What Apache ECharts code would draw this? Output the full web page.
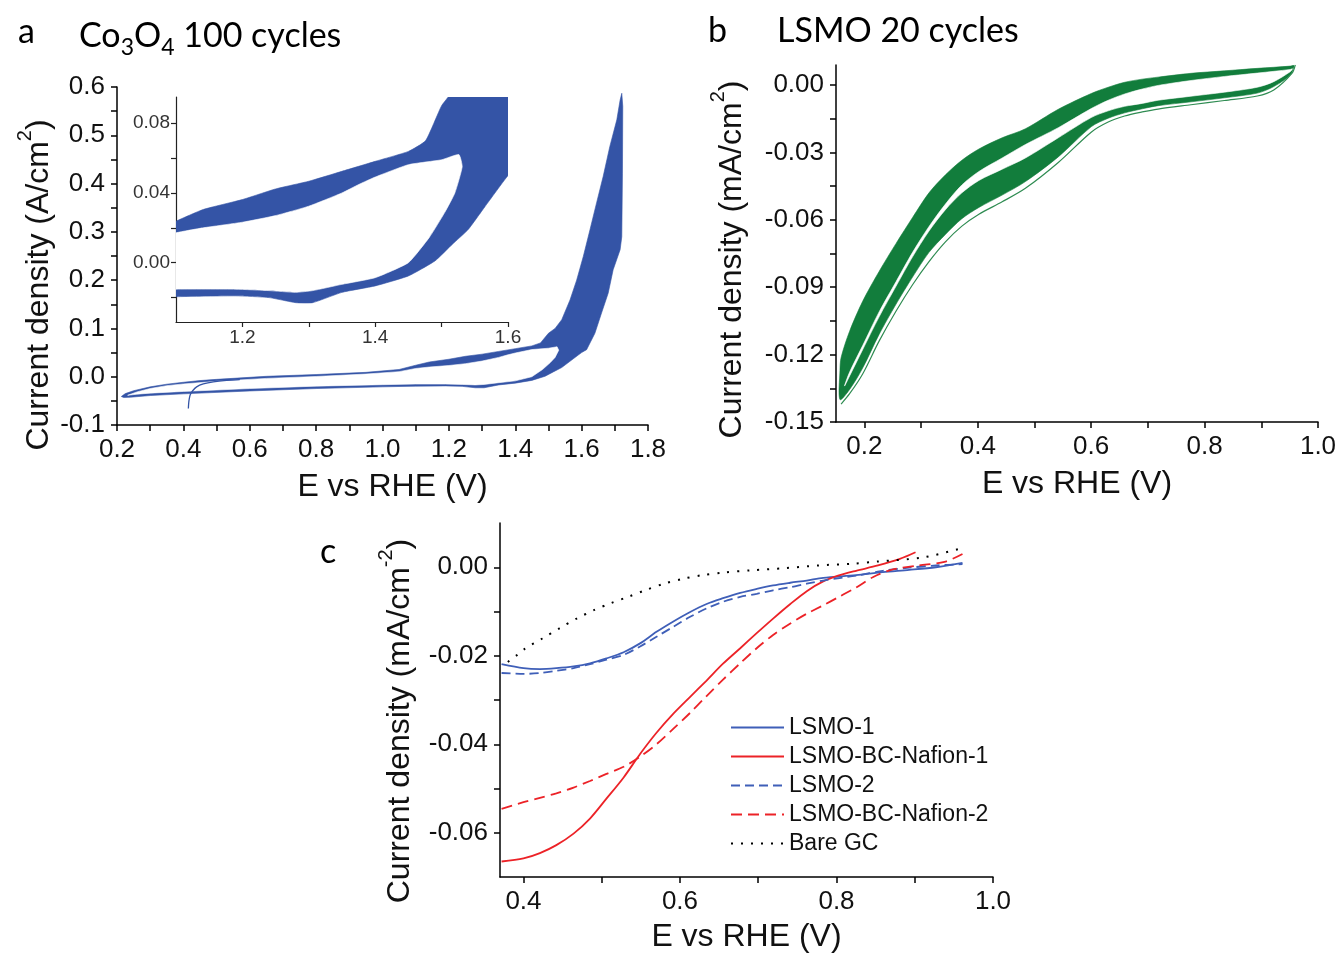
<!DOCTYPE html>
<html><head><meta charset="utf-8">
<script src="https://cdn.jsdelivr.net/npm/echarts@6/dist/echarts.min.js"></script>
<style>html,body{margin:0;padding:0;background:#fff}#c{width:1342px;height:954px}</style>
</head><body><div id="c"></div>
<script>
// ---------- Panel a : Co3O4, 100 cycles (band outline) ----------
const aOuter = [
[0.213,-0.041],[0.225,-0.035],[0.25,-0.029],[0.3,-0.021],[0.35,-0.0155],[0.4,-0.0115],[0.45,-0.008],[0.5,-0.0055],[0.65,0.0008],[0.8,0.0045],[0.95,0.009],[1.05,0.015],[1.1,0.0238],[1.141,0.0305],[1.2,0.0362],[1.25,0.0423],[1.3,0.0467],[1.35,0.0524],[1.4,0.0581],[1.45,0.0638],[1.476,0.07],[1.5,0.09],[1.52,0.10],[1.54,0.118],[1.565,0.159],[1.585,0.20],[1.605,0.249],[1.625,0.304],[1.645,0.36],[1.665,0.415],[1.685,0.477],[1.706,0.532],[1.716,0.573],[1.721,0.587],
[1.724,0.56],[1.723,0.42],[1.721,0.29],[1.716,0.263],[1.695,0.2215],[1.68,0.173],[1.66,0.132],[1.64,0.090],[1.615,0.056],[1.6,0.05],[1.59,0.045],[1.565,0.032],[1.54,0.019],[1.516,0.0105],[1.49,0.001],[1.45,-0.0076],[1.4,-0.0133],[1.35,-0.017],[1.306,-0.0229],[1.28,-0.0229],[1.24,-0.020],[1.19,-0.019],[1.1,-0.0195],[1.0,-0.021],[0.8,-0.0245],[0.6,-0.0295],[0.4,-0.0355],[0.3,-0.039],[0.24,-0.0425],[0.22,-0.043]
];
const aInner = [
[0.232,-0.0385],[0.26,-0.0315],[0.3,-0.0245],[0.35,-0.0185],[0.4,-0.015],[0.5,-0.0095],[0.65,-0.0035],[0.8,0.0005],[0.95,0.0055],[1.05,0.0105],[1.1,0.0171],[1.141,0.020],[1.2,0.0232],[1.25,0.027],[1.3,0.0324],[1.35,0.040],[1.375,0.0448],[1.4,0.0491],[1.45,0.0562],[1.5,0.059],[1.526,0.062],[1.531,0.055],[1.52,0.040],[1.505,0.029],[1.482,0.0148],[1.45,0.0],[1.4,-0.0086],[1.35,-0.0124],[1.306,-0.016],[1.28,-0.017],[1.24,-0.016],[1.19,-0.0152],[1.1,-0.0152],[1.0,-0.0165],[0.8,-0.0195],[0.6,-0.0245],[0.4,-0.0305],[0.3,-0.034],[0.26,-0.0362]
];
const aTail = [[0.415,-0.066],[0.416,-0.055],[0.418,-0.045],[0.421,-0.037],[0.428,-0.029],[0.44,-0.021],[0.46,-0.015],[0.49,-0.0105],[0.53,-0.0075],[0.57,-0.006]];

const aXTicks = [0.2,0.3,0.4,0.5,0.6,0.7,0.8,0.9,1.0,1.1,1.2,1.3,1.4,1.5,1.6,1.7,1.8];
const aXLabels = [0.2,0.4,0.6,0.8,1.0,1.2,1.4,1.6,1.8];
const aYTicks = [-0.1,-0.05,0,0.05,0.1,0.15,0.2,0.25,0.3,0.35,0.4,0.45,0.5,0.55,0.6];
const aYLabels = [-0.1,0,0.1,0.2,0.3,0.4,0.5,0.6];
const iXTicks = [1.2,1.3,1.4,1.5,1.6];
const iXLabels = [1.2,1.4,1.6];
const iYTicks = [-0.02,0,0.02,0.04,0.06,0.08];
const iYLabels = [0,0.04,0.08];

// ---------- Panel b : LSMO, 20 cycles ----------
const bUpperTop = [[0.157,-0.127],[0.159,-0.1213],[0.174,-0.1096],[0.197,-0.0963],[0.226,-0.083],[0.256,-0.0705],[0.285,-0.059],[0.314,-0.048],[0.343,-0.040],[0.372,-0.0335],[0.402,-0.0285],[0.443,-0.0235],[0.484,-0.0195],[0.542,-0.0108],[0.6,-0.0038],[0.63,-0.001],[0.659,0.0012],[0.69,0.0026],[0.718,0.0035],[0.776,0.0052],[0.835,0.0063],[0.893,0.0074],[0.951,0.0084],[0.957,0.0088]];
const bUpperBottom = [[0.165,-0.134],[0.174,-0.1278],[0.197,-0.116],[0.226,-0.101],[0.256,-0.0875],[0.285,-0.0745],[0.314,-0.063],[0.343,-0.053],[0.372,-0.0445],[0.402,-0.0385],[0.443,-0.0325],[0.484,-0.0265],[0.542,-0.019],[0.6,-0.0105],[0.63,-0.0068],[0.659,-0.004],[0.69,-0.0018],[0.718,-0.0002],[0.776,0.002],[0.835,0.0038],[0.893,0.0053],[0.951,0.0069],[0.955,0.0072]];
const bLowerTop = [[0.174,-0.1295],[0.197,-0.1178],[0.226,-0.1032],[0.256,-0.0895],[0.285,-0.0765],[0.314,-0.065],[0.343,-0.0555],[0.372,-0.048],[0.402,-0.0425],[0.443,-0.0375],[0.484,-0.0325],[0.542,-0.0235],[0.6,-0.0145],[0.63,-0.0115],[0.659,-0.0095],[0.69,-0.0082],[0.718,-0.0068],[0.776,-0.005],[0.835,-0.0032],[0.893,-0.001],[0.922,0.0015],[0.951,0.0059]];
const bLowerBottom = [[0.157,-0.14],[0.174,-0.1355],[0.197,-0.126],[0.226,-0.111],[0.256,-0.0975],[0.285,-0.0855],[0.314,-0.0745],[0.343,-0.0665],[0.372,-0.0595],[0.402,-0.0545],[0.443,-0.049],[0.484,-0.043],[0.542,-0.032],[0.6,-0.0186],[0.63,-0.0148],[0.659,-0.0124],[0.69,-0.0106],[0.718,-0.0092],[0.776,-0.0075],[0.835,-0.0057],[0.893,-0.0036],[0.922,-0.0007],[0.951,0.0044],[0.958,0.0085]];
const bOuterCycle = [[0.159,-0.142],[0.174,-0.1374],[0.197,-0.1286],[0.226,-0.114],[0.256,-0.1006],[0.285,-0.0889],[0.314,-0.0786],[0.343,-0.0698],[0.372,-0.0628],[0.402,-0.0575],[0.443,-0.052],[0.484,-0.046],[0.542,-0.0345],[0.6,-0.021],[0.63,-0.0165],[0.659,-0.0138],[0.69,-0.012],[0.718,-0.0107],[0.776,-0.0088],[0.835,-0.0069],[0.893,-0.0049],[0.922,-0.0022],[0.954,0.0052],[0.96,0.009]];

const bXTicks = [0.2,0.3,0.4,0.5,0.6,0.7,0.8,0.9,1.0];
const bXLabels = [0.2,0.4,0.6,0.8,1.0];
const bYTicks = [-0.15,-0.135,-0.12,-0.105,-0.09,-0.075,-0.06,-0.045,-0.03,-0.015,0];
const bYLabels = [-0.15,-0.12,-0.09,-0.06,-0.03,0];

// ---------- Panel c : LSV curves ----------
const cLSMO1 = [[0.372,-0.0219],[0.4,-0.0228],[0.421,-0.023],[0.442,-0.0228],[0.464,-0.0224],[0.485,-0.0217],[0.506,-0.0206],[0.528,-0.0192],[0.549,-0.0172],[0.57,-0.0146],[0.591,-0.0123],[0.613,-0.0101],[0.634,-0.0083],[0.655,-0.007],[0.677,-0.0058],[0.698,-0.0049],[0.719,-0.0041],[0.741,-0.0035],[0.762,-0.003],[0.783,-0.0024],[0.825,-0.0018],[0.859,-0.0011],[0.893,-0.0006],[0.927,0.0],[0.961,0.001]];
const cBC1 = [[0.372,-0.0665],[0.4,-0.0658],[0.421,-0.0646],[0.442,-0.0628],[0.464,-0.0602],[0.485,-0.0568],[0.506,-0.0523],[0.528,-0.0475],[0.549,-0.0422],[0.57,-0.0374],[0.591,-0.0332],[0.613,-0.0293],[0.634,-0.0256],[0.655,-0.0218],[0.677,-0.0183],[0.698,-0.0149],[0.719,-0.0116],[0.741,-0.0083],[0.762,-0.0054],[0.783,-0.0032],[0.802,-0.0019],[0.825,-0.0008],[0.853,0.0004],[0.881,0.0019],[0.901,0.0034]];
const cLSMO2 = [[0.372,-0.0239],[0.4,-0.0241],[0.421,-0.0239],[0.442,-0.0234],[0.464,-0.0228],[0.485,-0.0219],[0.506,-0.0209],[0.528,-0.0198],[0.549,-0.0179],[0.57,-0.0157],[0.591,-0.0135],[0.613,-0.0112],[0.634,-0.0093],[0.655,-0.0078],[0.677,-0.0067],[0.698,-0.006],[0.719,-0.0052],[0.741,-0.0045],[0.762,-0.0037],[0.783,-0.003],[0.825,-0.0019],[0.859,-0.0008],[0.893,-0.0001],[0.927,0.0004],[0.961,0.0007]];
const cBC2 = [[0.372,-0.0546],[0.4,-0.0531],[0.421,-0.0521],[0.442,-0.0511],[0.464,-0.0498],[0.485,-0.0483],[0.506,-0.0467],[0.528,-0.0451],[0.549,-0.0428],[0.57,-0.04],[0.591,-0.0366],[0.613,-0.0329],[0.634,-0.0291],[0.655,-0.0254],[0.677,-0.0217],[0.698,-0.0183],[0.719,-0.0153],[0.741,-0.0127],[0.762,-0.0105],[0.783,-0.0086],[0.802,-0.0068],[0.825,-0.0046],[0.847,-0.0022],[0.87,-0.0006],[0.904,0.0004],[0.938,0.0012],[0.961,0.003]];
const cGC = [[0.38,-0.0214],[0.392,-0.0198],[0.402,-0.0184],[0.424,-0.0161],[0.446,-0.0138],[0.468,-0.0116],[0.49,-0.0097],[0.512,-0.0081],[0.535,-0.0066],[0.557,-0.0051],[0.58,-0.0037],[0.604,-0.0026],[0.628,-0.0018],[0.655,-0.0012],[0.691,-0.0007],[0.734,-0.0002],[0.776,0.0004],[0.82,0.0008],[0.853,0.0013],[0.91,0.0022],[0.956,0.0041]];
const cNames = ['LSMO-1','LSMO-BC-Nafion-1','LSMO-2','LSMO-BC-Nafion-2','Bare GC'];

const cXTicks = [0.4,0.5,0.6,0.7,0.8,0.9,1.0];
const cXLabels = [0.4,0.6,0.8,1.0];
const cYTicks = [-0.06,-0.05,-0.04,-0.03,-0.02,-0.01,0];
const cYLabels = [-0.06,-0.04,-0.02,0];

// ---------- styling ----------
const F = 'Liberation Sans, Arial, sans-serif';
const FN = 'Liberation Sans Narrow, Liberation Sans, Arial, sans-serif';
const BLUE = '#3454a6', GREEN = '#127d3c';
const CB = '#3f5fb8', CR = '#ec2227';

function axis(o) {
  return {
    type: 'value', gridIndex: o.g, min: o.min, max: o.max,
    axisLine: { show: true, onZero: false, lineStyle: { color: o.lc || '#000', width: o.lw || 1.5 } },
    axisTick: { show: true, inside: false, length: o.tl || 6, customValues: o.ticks, lineStyle: { color: o.lc || '#000', width: o.lw || 1.5 } },
    axisLabel: { customValues: o.labels, formatter: v => v.toFixed(o.dec), fontFamily: o.ff || F, fontSize: o.fs || 26, color: o.col || '#111', margin: o.m || 12 },
    splitLine: { show: false },
    name: o.name || '', nameLocation: 'middle', nameGap: o.ng || 40, nameRotate: o.rot || 0,
    nameTextStyle: o.nts || {}
  };
}
const nameStyle = (pad) => ({
  fontFamily: F, fontSize: 32, color: '#111', padding: pad,
  rich: {
    n: { fontFamily: F, fontSize: 32, color: '#111', padding: [8, 0, 0, 0] },
    sup: { fontFamily: F, fontSize: 20, color: '#111', verticalAlign: 'top' }
  }
});
const TT = { fontFamily: 'Lato', fontSize: 34, fontWeight: 'normal', color: '#000' };

function poly(parts, fill, smooth) {
  return function (params, api) {
    if (params.dataIndex !== 0) return null;
    let pts = [];
    parts.forEach(p => { pts = pts.concat(p.map(d => api.coord(d))); });
    return { type: 'polygon', shape: { points: pts, smooth: smooth || 0 }, style: { fill: fill, stroke: fill, lineWidth: 0.6 } };
  };
}
function custom(xi, yi, parts, fill, z, smooth) {
  return { type: 'custom', coordinateSystem: 'cartesian2d', xAxisIndex: xi, yAxisIndex: yi, clip: true, z: z,
    renderItem: poly(parts, fill, smooth), data: [parts[0][0]], silent: true };
}
function line(name, xi, yi, data, color, width, type, z) {
  return { type: 'line', name: name, xAxisIndex: xi, yAxisIndex: yi, data: data, symbol: 'none', smooth: 0.3,
    clip: true, z: z || 5, lineStyle: { color: color, width: width, type: type || 'solid' }, itemStyle: { color: color } };
}

const chart = echarts.init(document.getElementById('c'));
chart.setOption({
  animation: false,
  backgroundColor: '#fff',
  title: [
    { text: 'a', left: 18, top: 15, padding: 0, textStyle: TT },
    { text: '{n|Co}{s|3}{n|O}{s|4}{n| 100 cycles}', left: 79, top: 19, padding: 0,
      textStyle: { rich: { n: { fontFamily: 'Lato', fontSize: 34, fontWeight: 'normal', color: '#000', padding: [0, 0, 6, 0] }, s: { fontFamily: 'Lato', fontSize: 23, fontWeight: 'normal', color: '#000', verticalAlign: 'bottom' } } } },
    { text: 'b', left: 708, top: 14, padding: 0, textStyle: TT },
    { text: 'LSMO 20 cycles', left: 777, top: 14, padding: 0, textStyle: TT },
    { text: 'c', left: 320, top: 535, padding: 0, textStyle: TT }
  ],
  legend: {
    data: cNames, orient: 'vertical', left: 725, top: 711, itemWidth: 53, itemHeight: 14, itemGap: 6,
    itemStyle: { opacity: 0 },
    textStyle: { fontFamily: F, fontSize: 23, color: '#111', lineHeight: 23 }, selectedMode: false
  },
  grid: [
    { left: 117, top: 87, width: 531, height: 338 },
    { left: 176, top: 97, width: 332, height: 225 },
    { left: 836, top: 65, width: 482, height: 357 },
    { left: 500, top: 523, width: 493, height: 357 }
  ],
  xAxis: [
    axis({ g: 0, min: 0.2, max: 1.8, ticks: aXTicks, labels: aXLabels, dec: 1, name: 'E vs RHE (V)', ng: 46, nts: { fontFamily: F, fontSize: 32, color: '#111', padding: [0, 0, 0, 20] } }),
    axis({ g: 1, min: 1.1, max: 1.6, ticks: iXTicks, labels: iXLabels, dec: 1, fs: 19, m: 6, tl: 5, lw: 1.2, lc: '#222', col: '#333', ff: FN }),
    axis({ g: 2, min: 0.15, max: 1.0, ticks: bXTicks, labels: bXLabels, dec: 1, name: 'E vs RHE (V)', ng: 46, nts: { fontFamily: F, fontSize: 32, color: '#111' } }),
    axis({ g: 3, min: 0.37, max: 1.0, ticks: cXTicks, labels: cXLabels, dec: 1, name: 'E vs RHE (V)', ng: 44, nts: { fontFamily: F, fontSize: 32, color: '#111' } })
  ],
  yAxis: [
    axis({ g: 0, min: -0.1, max: 0.6, ticks: aYTicks, labels: aYLabels, dec: 1, rot: 90, ng: 62,
      name: '{n|Current density (A/cm}{sup|2}{n|)}', nts: nameStyle([0, 58, 0, 0]) }),
    axis({ g: 1, min: -0.034, max: 0.095, ticks: iYTicks, labels: iYLabels, dec: 2, fs: 19, m: 6, tl: 5, lw: 1.2, lc: '#222', col: '#333', ff: FN }),
    axis({ g: 2, min: -0.15, max: 0.0089, ticks: bYTicks, labels: bYLabels, dec: 2, rot: 90, ng: 88,
      name: '{n|Current density (mA/cm}{sup|2}{n|)}', nts: nameStyle([0, 32, 0, 0]) }),
    axis({ g: 3, min: -0.07, max: 0.01, ticks: cYTicks, labels: cYLabels, dec: 2, rot: 90, ng: 84,
      name: '{n|Current density (mA/cm}{sup|-2}{n|)}', nts: nameStyle([0, 42, 0, 0]) })
  ],
  series: [
    // panel a main
    custom(0, 0, [aOuter], BLUE, 2),
    custom(0, 0, [aInner], '#fff', 3),
    line('a-tail', 0, 0, aTail, BLUE, 1.3, 'solid', 4),
    // panel a inset (same data, zoomed)
    custom(1, 1, [aOuter], BLUE, 10, 0.15),
    custom(1, 1, [aInner], '#fff', 11, 0.15),
    // panel b
    custom(2, 2, [bUpperTop.slice().reverse(), bLowerBottom], GREEN, 2, 0.3),
    custom(2, 2, [bUpperBottom, bLowerTop.slice().reverse()], '#fff', 3, 0.3),
    line('b-outer', 2, 2, bOuterCycle, '#2f8c52', 1.2, 'solid', 4),
    // panel c
    line(cNames[0], 3, 3, cLSMO1, CB, 1.8),
    line(cNames[1], 3, 3, cBC1, CR, 1.8),
    line(cNames[2], 3, 3, cLSMO2, CB, 1.8, [9, 5]),
    line(cNames[3], 3, 3, cBC2, CR, 1.8, [11, 6]),
    line(cNames[4], 3, 3, cGC, '#000', 2, [2, 8])
  ]
});
</script></body></html>
